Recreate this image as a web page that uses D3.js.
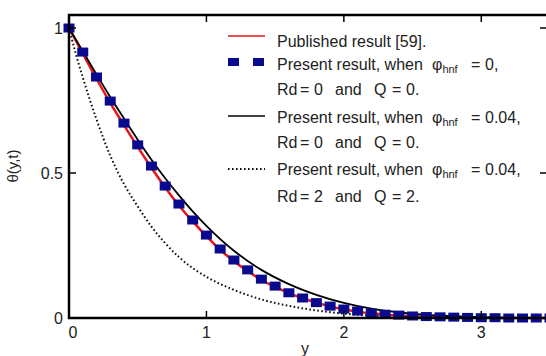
<!DOCTYPE html>
<html>
<head>
<meta charset="utf-8">
<script src="https://cdn.jsdelivr.net/npm/d3@7"></script>
<style>
  body { margin: 0; background: #fff; }
  svg { display: block; font-family: "Liberation Sans", Arial, sans-serif; }
  text { white-space: pre; }
</style>
</head>
<body>
<div id="chart"></div>
<script>
// Values
const xTicks = [0, 1, 2, 3];
const yTicks = [0, 0.5, 1];
const yTickLabels = ["0", "0.5", "1"];

// Present result, phi_hnf = 0, Rd = 0, Q = 0 (square markers)
const squareX = [0, 0.1, 0.2, 0.3, 0.4, 0.5, 0.6, 0.7, 0.8, 0.9, 1.0, 1.1, 1.2, 1.3, 1.4, 1.5, 1.6, 1.7,
  1.8, 1.9, 2.0, 2.1, 2.2, 2.3, 2.4, 2.5, 2.6, 2.7, 2.8, 2.9, 3.0, 3.1, 3.2, 3.3, 3.4, 3.5];
const squareY = [1.000, 0.917, 0.831, 0.748, 0.672, 0.597, 0.524, 0.455, 0.393, 0.338, 0.286, 0.238,
  0.200, 0.166, 0.134, 0.110, 0.087, 0.069, 0.053, 0.041, 0.031, 0.024, 0.017, 0.013, 0.010, 0.007,
  0.005, 0.004, 0.003, 0.002, 0.001, 0.001, 0, 0, 0, 0];

// Published result [59] (red)
const redX = squareX;
const redY = [1.000, 0.912, 0.825, 0.742, 0.665, 0.590, 0.518, 0.450, 0.388, 0.333, 0.282, 0.235,
  0.196, 0.162, 0.131, 0.107, 0.086, 0.068, 0.053, 0.040, 0.030, 0.022, 0.016, 0.012, 0.008, 0.006,
  0.004, 0.003, 0.002, 0.001, 0.001, 0, 0, 0, 0, 0];

// Present result, phi_hnf = 0.04, Rd = 0, Q = 0 (black solid)
const blackX = [0, 0.1, 0.2, 0.3, 0.4, 0.5, 0.6, 0.7, 0.8, 0.9, 1.0, 1.2, 1.4, 1.6, 1.8, 2.0, 2.2, 2.4, 2.6, 2.8, 3.0, 3.5];
const blackY = [1, 0.92, 0.84, 0.762, 0.688, 0.615, 0.546, 0.482, 0.423, 0.368, 0.318, 0.232, 0.166,
  0.117, 0.080, 0.052, 0.032, 0.019, 0.011, 0.006, 0.003, 0];

// Present result, phi_hnf = 0.04, Rd = 2, Q = 2 (black dotted)
const dotX = [0, 0.05, 0.1, 0.2, 0.3, 0.4, 0.5, 0.6, 0.7, 0.8, 0.9, 1.0, 1.2, 1.4, 1.6, 1.8, 2.0, 2.2, 2.4, 2.7, 3.0, 3.5];
const dotY = [1, 0.91, 0.83, 0.685, 0.56, 0.462, 0.385, 0.315, 0.258, 0.21, 0.172, 0.142, 0.097,
  0.064, 0.042, 0.026, 0.015, 0.008, 0.004, 0.001, 0, 0];

const width = 546, height = 356;
const margin = { left: 69, right: 550, top: 15, bottom: 318 };

const svg = d3.select("#chart").append("svg")
  .attr("width", width)
  .attr("height", height);

const x = d3.scaleLinear().domain([0, 3.5]).range([margin.left, margin.right]);
const y = d3.scaleLinear().domain([0, 1]).range([margin.bottom, 28]);

const zip = (xs, ys) => xs.map((v, i) => [v, ys[i]]);
const line = d3.line().x(d => x(d[0])).y(d => y(d[1])).curve(d3.curveMonotoneX);

// Curves
const plot = svg.append("g");

plot.append("path")
  .datum(zip(redX, redY))
  .attr("d", line)
  .attr("fill", "none")
  .attr("stroke", "#e8141a")
  .attr("stroke-width", 2.5);

plot.append("path")
  .datum(zip(blackX, blackY))
  .attr("d", line)
  .attr("fill", "none")
  .attr("stroke", "#000")
  .attr("stroke-width", 1.8);

plot.append("path")
  .datum(zip(dotX, dotY))
  .attr("d", line)
  .attr("fill", "none")
  .attr("stroke", "#111")
  .attr("stroke-width", 2)
  .attr("stroke-dasharray", "1.6,2.4");

plot.selectAll(".sq")
  .data(zip(squareX, squareY))
  .enter()
  .append("rect")
  .attr("class", "sq")
  .attr("x", d => x(d[0]) - 5.5)
  .attr("y", d => y(d[1]) - 4.5)
  .attr("width", 11)
  .attr("height", 9)
  .attr("fill", "#0a0a8f");

// Frame
svg.append("rect")
  .attr("x", margin.left)
  .attr("y", margin.top)
  .attr("width", margin.right - margin.left)
  .attr("height", margin.bottom - margin.top)
  .attr("fill", "none")
  .attr("stroke", "#000")
  .attr("stroke-width", 2.5);

// Inward ticks on all sides
const tickLen = 7;
const ticks = svg.append("g").attr("stroke", "#000").attr("stroke-width", 1.5);
xTicks.forEach(t => {
  ticks.append("line").attr("x1", x(t)).attr("x2", x(t)).attr("y1", margin.bottom).attr("y2", margin.bottom - tickLen);
  ticks.append("line").attr("x1", x(t)).attr("x2", x(t)).attr("y1", margin.top).attr("y2", margin.top + tickLen);
});
yTicks.forEach(t => {
  ticks.append("line").attr("x1", margin.left).attr("x2", margin.left + tickLen).attr("y1", y(t)).attr("y2", y(t));
  ticks.append("line").attr("x1", margin.right).attr("x2", margin.right - tickLen - 3).attr("y1", y(t)).attr("y2", y(t));
});

// Tick labels
svg.append("g").selectAll("text")
  .data(xTicks)
  .enter()
  .append("text")
  .attr("x", d => x(d) + (d === 0 ? 4 : 0))
  .attr("y", margin.bottom + 20)
  .attr("text-anchor", "middle")
  .attr("font-size", 16)
  .attr("fill", "#222")
  .text(d => d);

svg.append("g").selectAll("text")
  .data(yTicks)
  .enter()
  .append("text")
  .attr("x", margin.left - 6)
  .attr("y", d => y(d) + 6)
  .attr("text-anchor", "end")
  .attr("font-size", 16)
  .attr("fill", "#222")
  .text((d, i) => yTickLabels[i]);

// Axis titles
svg.append("text")
  .attr("x", 305)
  .attr("y", 354)
  .attr("text-anchor", "middle")
  .attr("font-size", 16)
  .attr("fill", "#222")
  .text("y");

svg.append("text")
  .attr("transform", "translate(18,166) rotate(-90)")
  .attr("text-anchor", "middle")
  .attr("font-size", 15)
  .attr("fill", "#222")
  .text("θ(y,t)");

// Legend
const legend = svg.append("g").attr("font-size", 16).attr("fill", "#222");
const lx0 = 228, lx1 = 265, tx = 277;

// "Present result, when phi_hnf = v," with equation-style spacing
function phiLine(yPos, value) {
  const t = legend.append("text").attr("x", tx).attr("y", yPos);
  t.append("tspan").text("Present result, when");
  t.append("tspan").attr("x", 432).attr("font-size", 16).text("φ");
  t.append("tspan").attr("font-size", 11).attr("dy", 3).text("hnf");
  t.append("tspan").attr("x", 471).attr("dy", -3).text("=");
  t.append("tspan").attr("x", 485).text(value);
}

// "Rd = a  and  Q = b." with equation-style spacing
function rdLine(yPos, rd, q) {
  const t = legend.append("text").attr("x", tx).attr("y", yPos);
  t.append("tspan").text("Rd");
  t.append("tspan").attr("x", 300).text("=");
  t.append("tspan").attr("x", 314).text(rd);
  t.append("tspan").attr("x", 335).text("and");
  t.append("tspan").attr("x", 374).text("Q");
  t.append("tspan").attr("x", 392).text("=");
  t.append("tspan").attr("x", 406).text(q + ".");
}

legend.append("line")
  .attr("x1", lx0).attr("x2", lx1).attr("y1", 36).attr("y2", 36)
  .attr("stroke", "#e8141a").attr("stroke-width", 1.5);
legend.append("text").attr("x", tx).attr("y", 47).text("Published result [59].");

legend.append("rect").attr("x", 228).attr("y", 58).attr("width", 11).attr("height", 8).attr("fill", "#0a0a8f");
legend.append("rect").attr("x", 253).attr("y", 58).attr("width", 11).attr("height", 8).attr("fill", "#0a0a8f");
phiLine(70, "0,");
rdLine(95, "0", "0");

legend.append("line")
  .attr("x1", lx0).attr("x2", lx1).attr("y1", 116).attr("y2", 116)
  .attr("stroke", "#000").attr("stroke-width", 1.5);
phiLine(123, "0.04,");
rdLine(148, "0", "0");

legend.append("line")
  .attr("x1", lx0).attr("x2", lx1).attr("y1", 169).attr("y2", 169)
  .attr("stroke", "#111").attr("stroke-width", 2).attr("stroke-dasharray", "1.6,2.4");
phiLine(175, "0.04,");
rdLine(202, "2", "2");
</script>
</body>
</html>
